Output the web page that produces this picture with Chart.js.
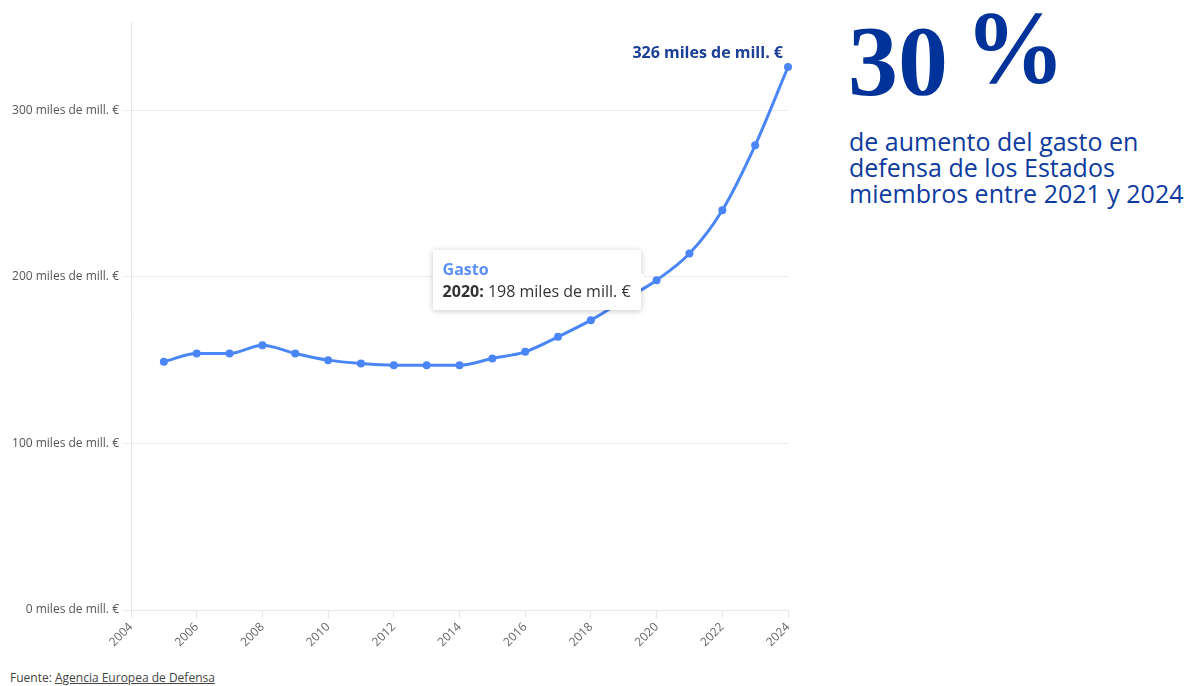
<!DOCTYPE html>
<html lang="es">
<head>
<meta charset="utf-8">
<script src="https://cdn.jsdelivr.net/npm/chart.js@4/dist/chart.umd.min.js"></script>
<style>
  html, body { margin: 0; padding: 0; background: #fff; }
  body { width: 1197px; height: 686px; position: relative; overflow: hidden; font-family: "Open Sans", sans-serif; }
  #wrap { position: absolute; left: 0; top: 0; width: 830px; height: 660px; }
  #big { position: absolute; left: 848px; top: 11px; font-family: "Liberation Serif", serif; font-weight: bold; font-size: 100px; line-height: 100px; color: #003399; white-space: nowrap; }
  #big span { position: relative; top: -12px; margin-left: -8px; display: inline-block; transform: scaleY(1.04); }
  #para { position: absolute; left: 849px; top: 128px; font-size: 25px; line-height: 26px; color: #0d3b9e; white-space: nowrap; }
  #foot { position: absolute; left: 10px; top: 670px; font-size: 12px; line-height: 16px; color: #444; }
  #foot a { color: #444; text-decoration: underline; }
  #tt { position: absolute; background: #fff; box-shadow: 0 1px 6px rgba(0,0,0,0.22); padding: 8px 10px; font-size: 16px; line-height: 22px; color: #333; white-space: nowrap; pointer-events: none; opacity: 0; }
  #tt .t { color: #5b8ff9; font-weight: bold; }
  #tt::after { content: ""; position: absolute; right: -7px; top: 50%; margin-top: -7px; border-style: solid; border-width: 7px 0 7px 7px; border-color: transparent transparent transparent #fff; }
</style>
</head>
<body>
<div id="wrap"><canvas id="c"></canvas></div>
<div id="tt"><div class="t"></div><div class="b"></div></div>
<div id="big">30 <span>%</span></div>
<div id="para">de aumento del gasto en<br>defensa de los Estados<br>miembros entre 2021 y 2024</div>
<div id="foot">Fuente: <a>Agencia Europea de Defensa</a></div>
<script>
// ---- data ----
const years = [2005, 2006, 2007, 2008, 2009, 2010, 2011, 2012, 2013, 2014, 2015, 2016, 2017, 2018, 2019, 2020, 2021, 2022, 2023, 2024];
const gasto = [149, 154, 154, 159, 154, 150, 148, 147, 147, 147, 151, 155, 164, 174, 186, 198, 214, 240, 279, 326];
const seriesName = 'Gasto';
const unit = ' miles de mill. €';
const yTicks = [0, 100, 200, 300];
const xTickYears = [2004, 2006, 2008, 2010, 2012, 2014, 2016, 2018, 2020, 2022, 2024];
const highlightYear = 2020;

const lineColor = '#4a86f7';
const points = years.map((y, i) => ({ x: y, y: gasto[i] }));

function externalTooltip(context) {
  const { chart, tooltip } = context;
  const el = document.getElementById('tt');
  if (!tooltip || tooltip.opacity === 0 || !tooltip.dataPoints || !tooltip.dataPoints.length) { el.style.opacity = 0; return; }
  const dp = tooltip.dataPoints[0];
  el.querySelector('.t').textContent = dp.dataset.label;
  el.querySelector('.b').innerHTML = '<b>' + dp.raw.x + ':</b> ' + dp.raw.y + unit;
  el.style.opacity = 1;
  const cx = chart.canvas.offsetLeft + dp.element.x;
  const cy = chart.canvas.offsetTop + dp.element.y;
  el.style.left = (cx - 16 - el.offsetWidth) + 'px';
  el.style.top = (cy - el.offsetHeight / 2) + 'px';
}

const endLabel = {
  id: 'endLabel',
  afterDatasetsDraw(chart) {
    const meta = chart.getDatasetMeta(0);
    const last = meta.data[meta.data.length - 1];
    const ctx = chart.ctx;
    ctx.save();
    ctx.font = 'bold 16px "Open Sans"';
    ctx.fillStyle = '#1b3f97';
    ctx.textAlign = 'right';
    ctx.textBaseline = 'alphabetic';
    ctx.fillText(gasto[gasto.length - 1] + unit, last.x - 5, last.y - 9);
    ctx.restore();
  }
};

const chart = new Chart(document.getElementById('c'), {
  type: 'line',
  data: {
    datasets: [{
      label: seriesName,
      data: points,
      borderColor: lineColor,
      backgroundColor: lineColor,
      borderWidth: 3,
      pointRadius: 4,
      pointHoverRadius: 4,
      pointBorderWidth: 0,
      pointHoverBorderWidth: 0,
      pointBackgroundColor: lineColor,
      cubicInterpolationMode: 'monotone',
      clip: false
    }]
  },
  options: {
    responsive: true,
    maintainAspectRatio: false,
    animation: false,
    layout: { padding: { top: 22, right: 42, left: 0, bottom: 0 } },
    interaction: { mode: 'nearest', intersect: false },
    plugins: {
      legend: { display: false },
      tooltip: { enabled: false, external: externalTooltip }
    },
    scales: {
      x: {
        type: 'linear',
        min: 2004,
        max: 2024,
        afterBuildTicks(scale) { scale.ticks = xTickYears.map(v => ({ value: v })); },
        afterFit(scale) { scale.height = 50; },
        ticks: {
          callback: v => String(v),
          minRotation: 45,
          maxRotation: 45,
          padding: 2,
          color: '#666',
          font: { family: 'Open Sans', size: 12 }
        },
        grid: { drawOnChartArea: false, drawTicks: true, tickLength: 8, color: '#e6e6e6' },
        border: { display: true, color: '#e6e6e6' }
      },
      y: {
        min: 0,
        max: 353,
        afterBuildTicks(scale) { scale.ticks = yTicks.map(v => ({ value: v })); },
        afterFit(scale) { scale.width = 131; },
        ticks: {
          callback: v => v + unit,
          padding: 4,
          color: '#555',
          font: { family: 'Open Sans', size: 12 }
        },
        grid: { color: '#ebebeb', tickLength: 8, drawTicks: true },
        border: { display: true, color: '#e6e6e6' }
      }
    }
  },
  plugins: [endLabel]
});

const idx = years.indexOf(highlightYear);
const el0 = chart.getDatasetMeta(0).data[idx];
chart.tooltip.setActiveElements([{ datasetIndex: 0, index: idx }], { x: el0.x, y: el0.y });
chart.update();
</script>
</body>
</html>
